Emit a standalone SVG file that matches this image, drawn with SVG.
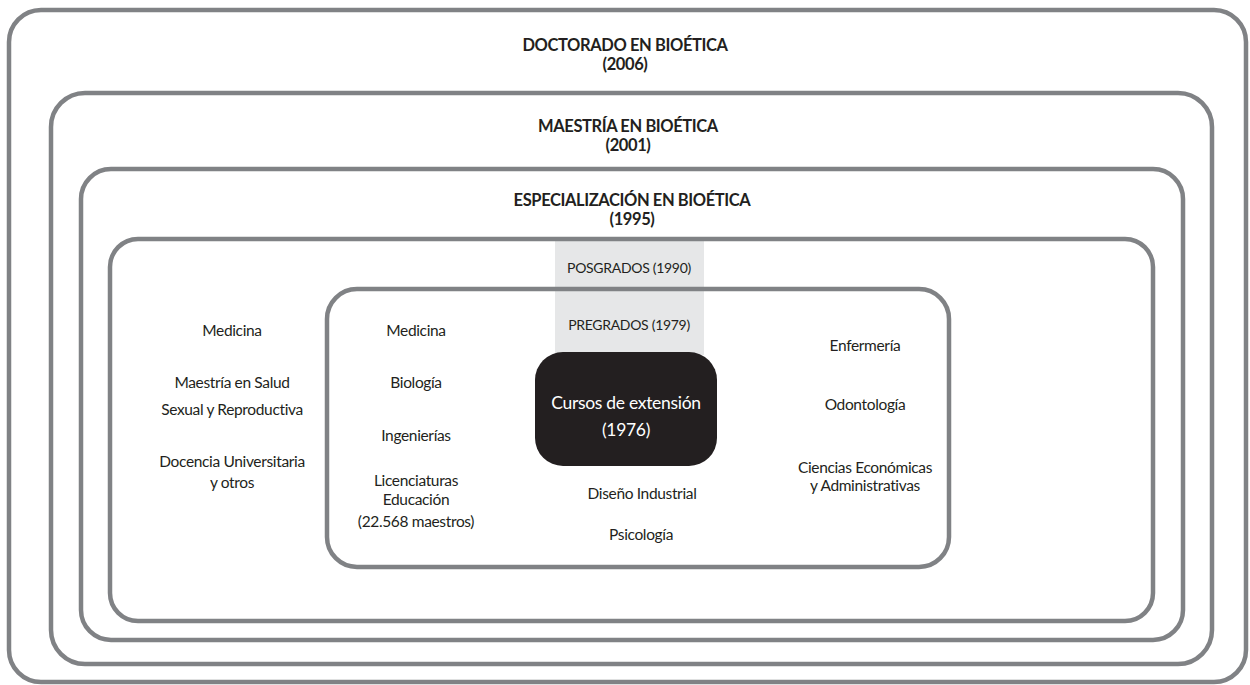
<svg xmlns="http://www.w3.org/2000/svg" width="1250" height="685" viewBox="0 0 1250 685">
<style>
.box{fill:none;stroke:#808285;stroke-width:4.5}
.h{font-family:Lato,"Liberation Sans",sans-serif;font-weight:bold;font-size:16.5px;letter-spacing:-0.4px;fill:#231f20;text-anchor:middle}
.t{font-family:Lato,"Liberation Sans",sans-serif;font-size:15.5px;letter-spacing:-0.35px;fill:#231f20;text-anchor:middle}
.s{font-family:Lato,"Liberation Sans",sans-serif;font-size:14px;letter-spacing:-0.3px;fill:#231f20;text-anchor:middle}
.w{font-family:Lato,"Liberation Sans",sans-serif;font-size:17.5px;letter-spacing:-0.3px;fill:#ffffff;text-anchor:middle}
</style>
<rect width="1250" height="685" fill="#ffffff"/>
<g id="doctorado">
<rect class="box" x="9" y="10" width="1237" height="672" rx="32"/>
<text class="h" x="625" y="51">DOCTORADO EN BIOÉTICA</text>
<text class="h" x="625" y="70">(2006)</text>
</g>
<g id="maestria">
<rect class="box" x="51" y="93" width="1161" height="571" rx="34"/>
<text class="h" x="628" y="132">MAESTRÍA EN BIOÉTICA</text>
<text class="h" x="628" y="151">(2001)</text>
</g>
<g id="especializacion">
<rect class="box" x="81" y="169" width="1102" height="471" rx="30"/>
<text class="h" x="632" y="206">ESPECIALIZACIÓN EN BIOÉTICA</text>
<text class="h" x="632" y="225">(1995)</text>
</g>
<g id="band">
<rect x="555" y="241" width="149" height="114" fill="#e6e7e8"/>
</g>
<g id="posgrados">
<rect class="box" x="110" y="239" width="1043" height="382" rx="28"/>
<text class="s" x="629" y="273">POSGRADOS (1990)</text>
<text class="t" x="232" y="336">Medicina</text>
<text class="t" x="232" y="388">Maestría en Salud</text>
<text class="t" x="232" y="415">Sexual y Reproductiva</text>
<text class="t" x="232" y="467">Docencia Universitaria</text>
<text class="t" x="232" y="488">y otros</text>
</g>
<g id="pregrados">
<rect class="box" x="327" y="289" width="622" height="278" rx="30"/>
<text class="s" x="629" y="330">PREGRADOS (1979)</text>
<text class="t" x="416" y="336">Medicina</text>
<text class="t" x="416" y="388">Biología</text>
<text class="t" x="416" y="441">Ingenierías</text>
<text class="t" x="416" y="486">Licenciaturas</text>
<text class="t" x="416" y="505">Educación</text>
<text class="t" x="416" y="527">(22.568 maestros)</text>
<text class="t" x="642" y="499">Diseño Industrial</text>
<text class="t" x="641" y="540">Psicología</text>
<text class="t" x="865" y="351">Enfermería</text>
<text class="t" x="865" y="410">Odontología</text>
<text class="t" x="865" y="473">Ciencias Económicas</text>
<text class="t" x="865" y="491">y Administrativas</text>
</g>
<g id="cursos">
<rect x="535" y="352" width="182" height="114" rx="28" fill="#231f20"/>
<text class="w" x="626" y="409">Cursos de extensión</text>
<text class="w" x="626" y="436">(1976)</text>
</g>
</svg>
